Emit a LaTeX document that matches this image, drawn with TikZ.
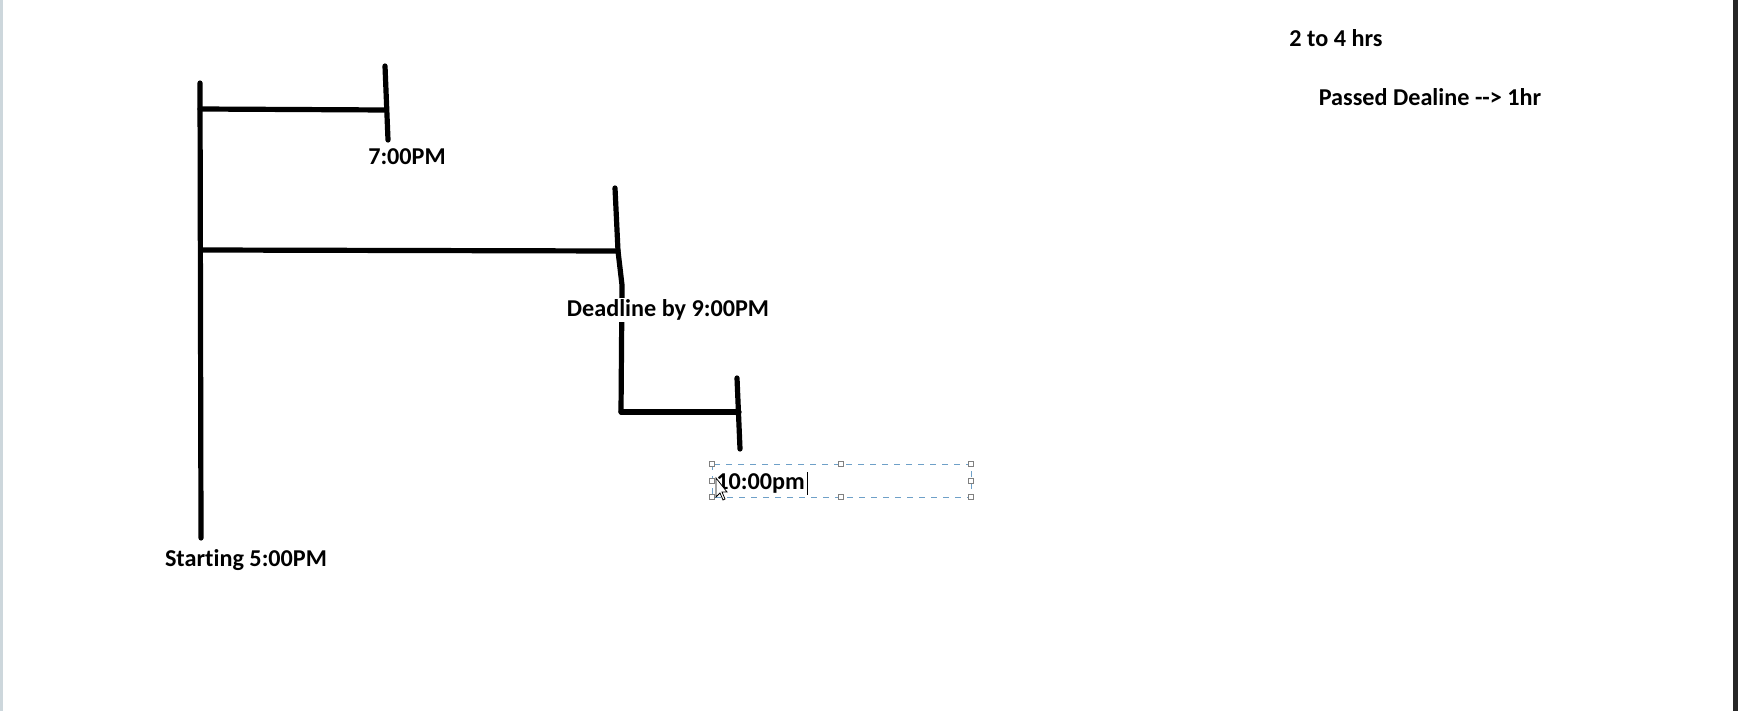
\documentclass[tikz,border=0pt]{standalone}
\usepackage{fontspec}
\setmainfont{Carlito}[Ligatures={NoCommon}]
\usetikzlibrary{positioning,calc}
\definecolor{selblue}{RGB}{110,160,200}
\definecolor{edgegray}{RGB}{205,215,220}
\tikzset{
	pen/.style = {line width=2.6pt, line cap=round, line join=round},
	lbl/.style = {font=\fontsize{12.1}{14}\selectfont\bfseries, inner sep=0pt},
	handle/.style = {draw=gray, fill=white, line width=0.4pt, minimum size=2.6pt, inner sep=0pt},
}

\begin{document}
\begin{tikzpicture}[x=0.5pt, y=-0.5pt]
    \useasboundingbox (0,0) rectangle (1738,711);
    % screen edges
    \fill[edgegray] (0,0) rectangle (3,711);
    \fill[black!85] (1733,0) rectangle (1738,711);

    % main line
    \coordinate (top) at (200,83);
    \coordinate (bot) at (201,538);
    \coordinate (j1) at (200,109);
    \coordinate (j2) at (201,250);
    \draw[pen] (top) -- (bot);

    % 7:00PM branch
    \coordinate (e1) at (386,110);
    \coordinate (k1a) at (385,66);
    \coordinate (k1b) at (388,140);
    \draw[pen] (j1) -- (e1);
    \draw[pen] (k1a) -- (k1b);

    % deadline branch
    \coordinate (e2) at (618,251);
    \coordinate (k2a) at (615,188);
    \coordinate (k2m) at (622,285);
    \coordinate (k2b) at (621,412);
    \draw[pen] (j2) -- (e2);
    \draw[pen] (k2a) -- (e2) -- (k2m) -- (k2b);

    % 10:00pm branch
    \coordinate (e3) at (739,412);
    \coordinate (k3a) at (737,378);
    \coordinate (k3b) at (740,449);
    \draw[pen] (k2b) -- (e3);
    \draw[pen] (k3a) -- (k3b);

    % labels
    \node[lbl] (start) at (246,560) {Starting 5:00PM};
    \node[lbl] (seven) at (407,157) {7:00PM};
    \node[lbl, fill=white, inner sep=1pt] (dead) at (668,310) {Deadline by 9:00PM};
    \node[lbl, anchor=west] (ten) at (716,483) {10:00pm};
    \node[lbl] (range) at (1336,38) {2 to 4 hrs};
    \node[lbl] (passed) at (1430,97) {Passed Dealine -{}-> 1hr};

    % text box selection
    \coordinate (boxa) at (712,464);
    \coordinate (boxb) at (971,497);
    \draw[selblue, dashed, line width=0.5pt] (boxa) rectangle (boxb);
    \foreach \hx/\hy in {712/464, 841/464, 971/464, 712/480.5, 971/480.5, 712/497, 841/497, 971/497}
        \node[handle] at (\hx,\hy) {};
    \coordinate (cura) at (ten.east) ;
    \draw[black, line width=0.6pt] ($(cura)+(2,-11)$) -- ($(cura)+(2,12)$);
    % mouse pointer
    \draw[black, fill=white, line width=0.4pt] (716,478) -- (716,497) -- (720,493) -- (723,500) -- (725,499) -- (722,492) -- (727,492) -- cycle;
\end{tikzpicture}
\end{document}
